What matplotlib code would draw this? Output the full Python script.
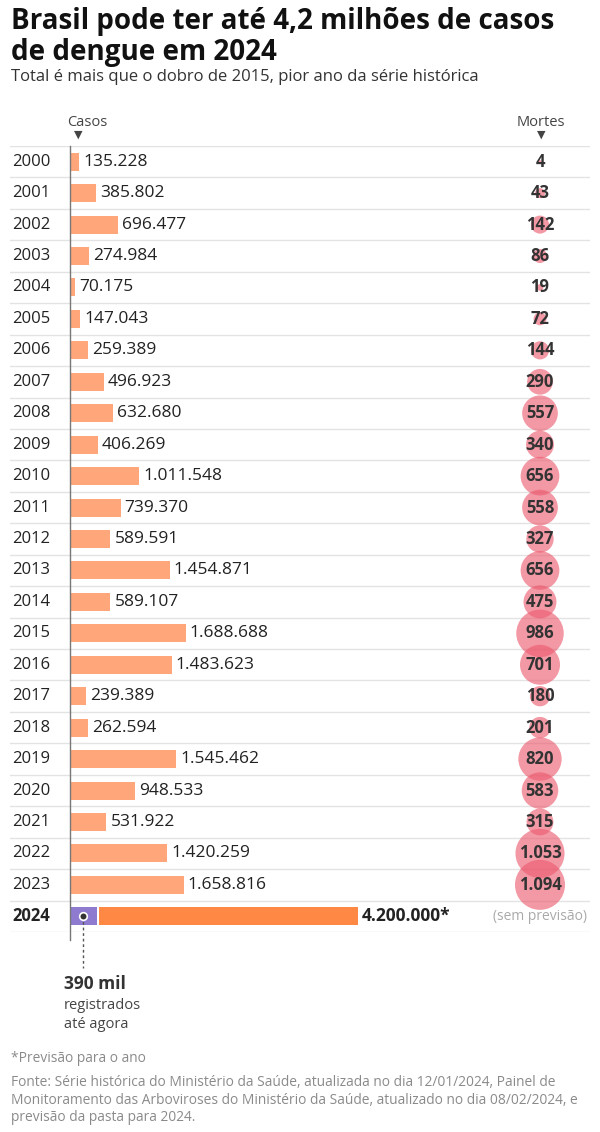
import matplotlib.pyplot as plt
import matplotlib.transforms as mtransforms

plt.rcParams['font.family'] = ['Open Sans', 'DejaVu Sans']

# Data
years = [str(y) for y in range(2000, 2025)]
cases = [135228, 385802, 696477, 274984, 70175, 147043, 259389, 496923,
         632680, 406269, 1011548, 739370, 589591, 1454871, 589107, 1688688,
         1483623, 239389, 262594, 1545462, 948533, 531922, 1420259, 1658816]
deaths = [4, 43, 142, 86, 19, 72, 144, 290, 557, 340, 656, 558, 327, 656,
          475, 986, 701, 180, 201, 820, 583, 315, 1053, 1094]
forecast_2024 = 4200000
registered_2024 = 390000

W, H = 600, 1132
fig = plt.figure(figsize=(W / 100, H / 100), dpi=100)


def fx(px):
    return px / W


def fy(px):
    return 1 - px / H


# chart axes: rows from y=146 to y=932, x from 10 to 590 px
top, bottom = 146, 932
ax = fig.add_axes([fx(10), fy(bottom), fx(580), (bottom - top) / H])
px_per_case = 288 / forecast_2024
ax.set_xlim(-60 / px_per_case, 520 / px_per_case)
ax.set_ylim(24.5, -0.5)
ax.axis('off')

bar_h = 18 / 31.44
n = len(cases)

# row separators
for i in range(n + 2):
    ax.axhline(i - 0.5, color='#e3e3e3', lw=1, zorder=0)

# historic bars
ax.barh(range(n), cases, height=bar_h, color='#FFA77A', zorder=2)

# 2024: registered + forecast
gap = 40000
ax.barh(n, registered_2024, height=bar_h, color='#8E7BCF', zorder=2)
ax.barh(n, forecast_2024 - registered_2024 - gap, left=registered_2024 + gap,
        height=bar_h, color='#FF8844', zorder=2)

# baseline
ax.plot([0, 0], [-0.5, n + 0.75], color='#777777', lw=1, zorder=3, clip_on=False)

# year labels and values
for i, y in enumerate(years):
    bold = y == '2024'
    ax.text(-58 / px_per_case, i, y, va='center', ha='left', fontsize=12,
            color='#222222', fontweight='bold' if bold else 'normal')

for i, v in enumerate(cases):
    ax.text(v + 4 / px_per_case, i, f"{v:,}".replace(",", "."), va='center',
            ha='left', fontsize=12.5, color='#222222')
ax.text(forecast_2024 + 4 / px_per_case, n, f"{forecast_2024:,}".replace(",", ".") + '*',
        va='center', ha='left', fontsize=12.5, color='#222222', fontweight='bold')

# deaths bubbles
trans = mtransforms.blended_transform_factory(ax.transAxes, ax.transData)
xd = (540 - 10) / 580
r_max = 25  # px radius for max deaths
sizes = [(2 * r_max * 0.72) ** 2 * d / max(deaths) for d in deaths]
ax.scatter([xd] * n, range(n), s=sizes, color='#EC5A6E', alpha=0.62,
           edgecolors='none', transform=trans, zorder=4, clip_on=False)
for i, d in enumerate(deaths):
    ax.text(xd, i, f"{d:,}".replace(",", "."), transform=trans, va='center',
            ha='center', fontsize=12, fontweight='bold', color='#333333', zorder=5)
ax.text(xd, n, '(sem previsão)', transform=trans, va='center', ha='center',
        fontsize=10, color='#aaaaaa')

# marker for registered cases
dot_x = registered_2024 / 2
ax.plot([dot_x, dot_x], [n, n + 1.65], color='#555555', lw=1, ls=(0, (2, 2)),
        clip_on=False, zorder=3)
ax.scatter([dot_x], [n], s=30, color='#333333', edgecolors='white',
           linewidths=1.2, zorder=6, clip_on=False)

# annotation text
fig.text(fx(64), fy(984), '390 mil', fontsize=12.5, fontweight='bold',
         color='#333333', va='center')
fig.text(fx(64), fy(1015), 'registrados\naté agora', fontsize=10.5,
         color='#444444', va='center', linespacing=1.35)

# column headers
fig.text(fx(87), fy(122), 'Casos', fontsize=10.5, color='#444444',
         ha='center', va='center')
fig.text(fx(78), fy(135), '▼', fontsize=8, color='#444444', ha='center', va='center')
fig.text(fx(541), fy(122), 'Mortes', fontsize=10.5, color='#444444',
         ha='center', va='center')
fig.text(fx(541), fy(135), '▼', fontsize=8, color='#444444', ha='center', va='center')

# title
fig.text(fx(11), fy(37), 'Brasil pode ter até 4,2 milhões de casos\nde dengue em 2024',
         fontsize=20, fontweight='bold', color='#111111', va='center',
         linespacing=1.05)
fig.text(fx(11), fy(77), 'Total é mais que o dobro de 2015, pior ano da série histórica',
         fontsize=12, color='#333333', va='center')

# footer
fig.text(fx(11), fy(1059), '*Previsão para o ano', fontsize=9.9,
         color='#8a8a8a', va='center')
fig.text(fx(11), fy(1100),
         'Fonte: Série histórica do Ministério da Saúde, atualizada no dia 12/01/2024, Painel de\n'
         'Monitoramento das Arboviroses do Ministério da Saúde, atualizado no dia 08/02/2024, e\n'
         'previsão da pasta para 2024.',
         fontsize=9.9, color='#8a8a8a', va='center', linespacing=1.2)

fig.savefig('out.png', dpi=100, facecolor='white')
